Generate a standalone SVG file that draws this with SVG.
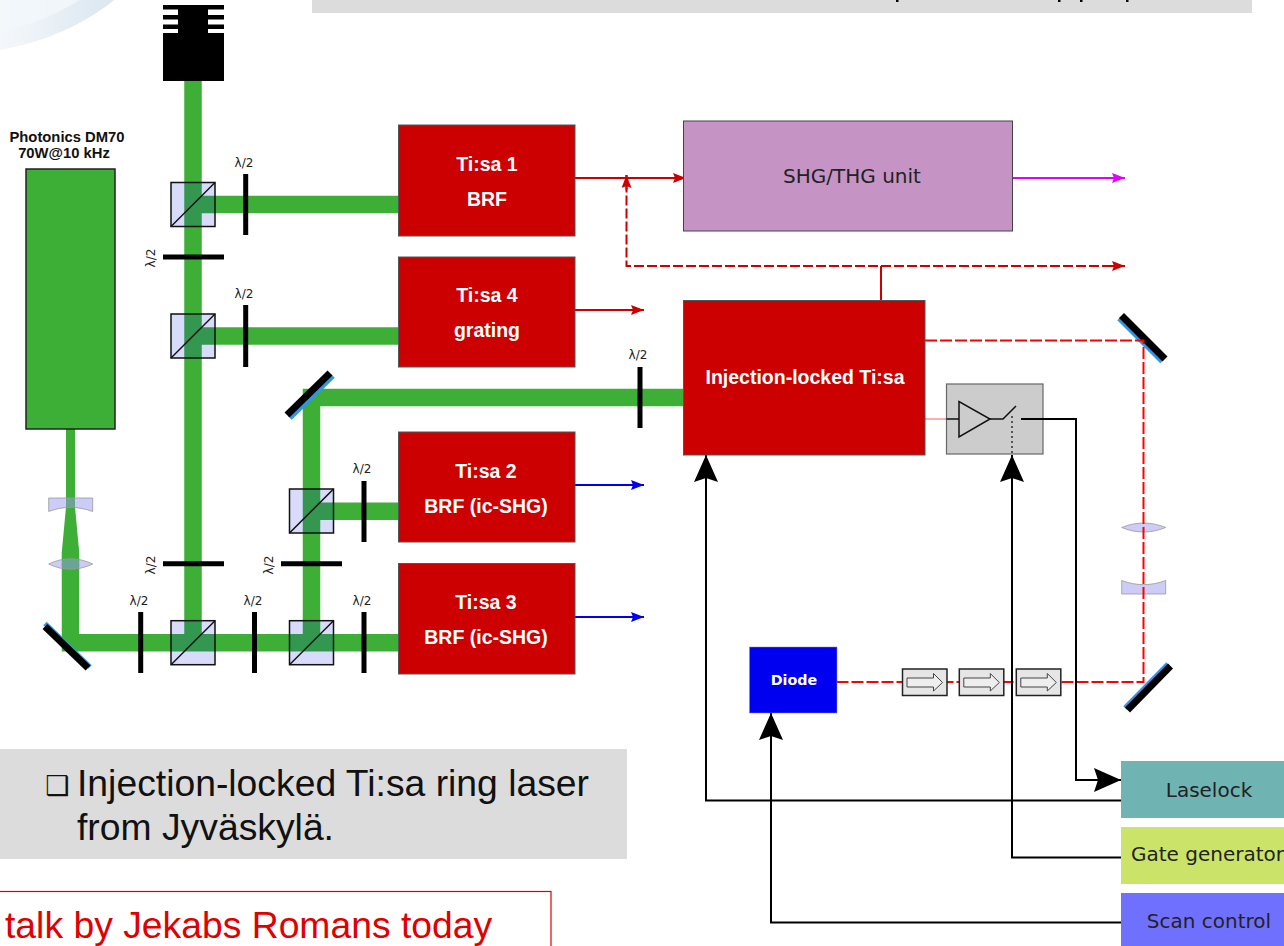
<svg xmlns="http://www.w3.org/2000/svg" width="1284" height="946" viewBox="0 0 1284 946">
<style>
text{font-family:"Liberation Sans",Arial,sans-serif}
.dv{font-family:"DejaVu Sans",sans-serif}
.beam{fill:none;stroke:#3daf37;stroke-width:17.5}
.tisa{fill:#cc0000;stroke:#555;stroke-width:1}
.tw{fill:#fff;font-weight:bold;font-size:19.5px;text-anchor:middle}
.wp{stroke:#000;stroke-width:5;fill:none}
.cube{fill:#0014de;fill-opacity:.154;stroke:#111;stroke-width:1.5}
.diag{stroke:#111;stroke-width:1.5}
.lam{font-family:"DejaVu Sans",sans-serif;font-size:12px;fill:#222;text-anchor:middle}
.lens{fill:#9a9af0;fill-opacity:.5;stroke:#999;stroke-width:.8}
.mb{stroke:#000;stroke-width:7;fill:none}
.mc{stroke:#2f96e8;stroke-width:5;fill:none}
.ctl{fill:none;stroke:#000;stroke-width:2}
.las{fill:none;stroke:#f00;stroke-width:2;stroke-dasharray:12 3}
.iso{fill:#e6e6e6;stroke:#222;stroke-width:1.5}
.isoa{fill:#eee;stroke:#444;stroke-width:1}
.ctlt{font-family:"DejaVu Sans",sans-serif;font-size:20px;fill:#222}
.big{font-size:37.3px}
</style>
<defs>
<linearGradient id="sw" x1="0" y1="0" x2="1" y2="0"><stop offset="0" stop-color="#f4f8fb"/><stop offset="1" stop-color="#dbe6ef"/></linearGradient>
<marker id="ab" markerUnits="userSpaceOnUse" markerWidth="30" markerHeight="26" refX="27" refY="12" orient="auto"><path d="M0 0L27 12L0 24L4 12Z" fill="#000"/></marker>
<marker id="ar" markerUnits="userSpaceOnUse" markerWidth="14" markerHeight="12" refX="13" refY="5" orient="auto"><path d="M0 0L13 5L0 10L2 5Z" fill="#cc0000"/></marker>
<marker id="au" markerUnits="userSpaceOnUse" markerWidth="14" markerHeight="12" refX="13" refY="5" orient="auto"><path d="M0 0L13 5L0 10L2 5Z" fill="#0000ee"/></marker>
<marker id="am" markerUnits="userSpaceOnUse" markerWidth="14" markerHeight="12" refX="13" refY="5" orient="auto"><path d="M0 0L13 5L0 10L2 5Z" fill="#e000ff"/></marker>
<g id="isoBox"><rect class="iso" width="44.5" height="26.5"/><path class="isoa" d="M4.5 9H31V4.5L40 13.5L31 22V18H4.5Z"/></g>
</defs>
<path d="M0 0H114C85 24 45 42 0 50Z" fill="url(#sw)"/>
<path d="M0 0H80C55 15 28 26 0 32Z" fill="#f3f7fb" opacity=".8"/>
<rect x="312" y="0" width="940" height="13" fill="#dcdcdc"/>
<path d="M896 0h2.5v2h-2.5ZM1058 0h2.5v2h-2.5ZM1080 0h2.5v2h-2.5ZM1126 0h2.5v2h-2.5Z" fill="#000"/>

<g id="beams">
<path class="beam" d="M193 81V642"/>
<path class="beam" d="M193 204.500H398"/>
<path class="beam" d="M193 336H398"/>
<path class="beam" d="M70.500 564V642.800H398"/>
<path class="beam" d="M311.500 642V397.500H683"/>
<path class="beam" d="M311.500 511.300H398"/>
<path d="M66 429H75V507L79.300 553V566H61.700V553L66 507Z" fill="#3daf37"/>
</g>

<g id="detector" fill="#000">
<rect x="163" y="33" width="61" height="48"/>
<rect x="178" y="5" width="30" height="30"/>
<rect x="163" y="5" width="61" height="4.500"/>
<rect x="163" y="15" width="61" height="4.500"/>
<rect x="163" y="24.500" width="61" height="4.500"/>
</g>

<g id="pump-laser">
<rect x="26" y="169" width="89" height="260" fill="#3daf37" stroke="#222" stroke-width="1.500"/>
<text x="67" y="142" font-size="14.800" font-weight="bold" text-anchor="middle" fill="#111">Photonics DM70</text>
<text x="64" y="158" font-size="14.800" font-weight="bold" text-anchor="middle" fill="#111">70W@10 kHz</text>
</g>

<g id="cubes">
<g id="pbs1"><rect class="cube" x="171" y="182.500" width="44" height="44"/><path class="diag" d="M171 226.500L215 182.500"/></g>
<g id="pbs2"><rect class="cube" x="171" y="314" width="44" height="44"/><path class="diag" d="M171 358L215 314"/></g>
<g id="pbs3"><rect class="cube" x="171" y="620.700" width="44" height="44"/><path class="diag" d="M171 664.700L215 620.700"/></g>
<g id="pbs4"><rect class="cube" x="289.500" y="620.700" width="44" height="44"/><path class="diag" d="M289.500 664.700L333.500 620.700"/></g>
<g id="pbs5"><rect class="cube" x="289.500" y="489" width="44" height="44"/><path class="diag" d="M289.500 533L333.500 489"/></g>
</g>

<g id="waveplates">
<path class="wp" d="M245.700 174V235M245.700 305V367M640 367V428M364 481V542M364 612V673M140.700 612V673M254.500 612V673M163 257H224M163 563.700H224M281 563.700H342"/>
<text class="lam" x="244" y="167">λ/2</text>
<text class="lam" x="244" y="298">λ/2</text>
<text class="lam" x="638" y="359">λ/2</text>
<text class="lam" x="362" y="473">λ/2</text>
<text class="lam" x="362" y="605">λ/2</text>
<text class="lam" x="139" y="605">λ/2</text>
<text class="lam" x="253" y="605">λ/2</text>
<text class="lam" transform="translate(155 258) rotate(-90)">λ/2</text>
<text class="lam" transform="translate(155 565) rotate(-90)">λ/2</text>
<text class="lam" transform="translate(273 565) rotate(-90)">λ/2</text>
</g>

<g id="lenses">
<path class="lens" d="M48.700 498H92.700V511.500C78 506 63 506 48.700 511.500Z"/>
<path class="lens" d="M48.700 564C63 557 78 557 92.700 564C78 571 63 571 48.700 564Z"/>
<path class="lens" d="M1121.700 527.500C1136 521.500 1151 521.500 1165.700 527.500C1151 533.500 1136 533.500 1121.700 527.500Z"/>
<path class="lens" d="M1121.700 580.500C1136 586 1151 586 1165.700 580.500V594H1121.700Z"/>
</g>

<g id="mirrors">
<path class="mc" d="M45 623.500L90 667"/><path class="mb" d="M45 626.500L88 668"/>
<path class="mc" d="M290 418L333 376"/><path class="mb" d="M287 415L330 373"/>
<path class="mc" d="M1119 318.500L1162 361.500"/><path class="mb" d="M1121.500 315.500L1165 359"/>
<path class="mc" d="M1125 708L1168 664"/><path class="mb" d="M1127.500 710L1170.500 666"/>
</g>

<g id="connectors">
<path d="M575 178H686" fill="none" stroke="#cc0000" stroke-width="2" marker-end="url(#ar)"/>
<path d="M881 300V266" fill="none" stroke="#cc0000" stroke-width="2"/>
<path d="M1125 266H626.500V175" fill="none" stroke="#cc0000" stroke-width="2" stroke-dasharray="10 3"/>
<path d="M626.500 190V175" fill="none" stroke="#cc0000" stroke-width="2" marker-end="url(#ar)"/>
<path d="M1110 266H1125" fill="none" stroke="#cc0000" stroke-width="2" marker-end="url(#ar)"/>
<path d="M575 310H644" fill="none" stroke="#cc0000" stroke-width="2" marker-end="url(#ar)"/>
<path d="M575 485H644" fill="none" stroke="#0000ee" stroke-width="2" marker-end="url(#au)"/>
<path d="M575 617H644" fill="none" stroke="#0000ee" stroke-width="2" marker-end="url(#au)"/>
<path d="M1012 178H1125" fill="none" stroke="#e000ff" stroke-width="2" marker-end="url(#am)"/>
<path class="las" d="M925 340.500H1143.500V682H837"/>
<path d="M925 419H946" fill="none" stroke="#f06060" stroke-width="1"/>
<path class="ctl" d="M1121 800.500H706V455" marker-end="url(#ab)"/>
<path class="ctl" d="M1121 857.500H1012V455" marker-end="url(#ab)"/>
<path class="ctl" d="M1121 922.500H771V713" marker-end="url(#ab)"/>
</g>

<g id="tisa1"><rect class="tisa" x="398.500" y="125" width="176.500" height="111"/><text class="tw" x="487" y="171">Ti:sa 1</text><text class="tw" x="487" y="206">BRF</text></g>
<g id="tisa4"><rect class="tisa" x="398.500" y="257" width="176.500" height="110"/><text class="tw" x="487" y="302">Ti:sa 4</text><text class="tw" x="487" y="337">grating</text></g>
<g id="tisa2"><rect class="tisa" x="398.500" y="432" width="176.500" height="110"/><text class="tw" x="486" y="478">Ti:sa 2</text><text class="tw" x="486" y="513">BRF (ic-SHG)</text></g>
<g id="tisa3"><rect class="tisa" x="398.500" y="563.500" width="176.500" height="110.500"/><text class="tw" x="486" y="609">Ti:sa 3</text><text class="tw" x="486" y="644">BRF (ic-SHG)</text></g>
<g id="injection"><rect class="tisa" x="683.500" y="300.500" width="241.500" height="154.500"/><text class="tw" x="805" y="384">Injection-locked Ti:sa</text></g>
<g id="shg"><rect x="683.500" y="121" width="329" height="110" fill="#c594c5" stroke="#444" stroke-width="1"/><text class="ctlt" x="852" y="183" text-anchor="middle">SHG/THG unit</text></g>

<g id="aom">
<rect x="946.500" y="384" width="96.500" height="70" fill="#ccc" stroke="#666" stroke-width="1.200"/>
<path d="M946.500 419H959M990 419H1003L1016 406" fill="none" stroke="#111" stroke-width="1.500"/>
<path d="M959 401.500V437L990 419Z" fill="#ccc" stroke="#111" stroke-width="1.500"/>
<path d="M1012 416V455" fill="none" stroke="#555" stroke-width="2" stroke-dasharray="2 3"/>
<path class="ctl" d="M1021 419H1076V780H1121" marker-end="url(#ab)"/>
</g>

<g id="diode"><rect x="749.500" y="647" width="87.500" height="66" fill="#0000f0" stroke="#88a" stroke-width=".5"/><text class="dv" x="794" y="685" font-size="14.300" font-weight="bold" fill="#fff" text-anchor="middle">Diode</text></g>
<g id="isolators">
<use href="#isoBox" x="902.500" y="669"/>
<use href="#isoBox" x="959.300" y="669"/>
<use href="#isoBox" x="1016.300" y="669"/>
</g>

<g id="laselock"><rect x="1121" y="761" width="163" height="57" fill="#6fb3b3"/><text class="ctlt" x="1209" y="797" text-anchor="middle">Laselock</text></g>
<g id="gate"><rect x="1121" y="827" width="163" height="57" fill="#cce36a"/><text class="ctlt" x="1131" y="861">Gate generator</text></g>
<g id="scan"><rect x="1121" y="893" width="163" height="53" fill="#7070ff"/><text class="ctlt" x="1209" y="928" text-anchor="middle">Scan control</text></g>

<g id="note">
<rect x="0" y="749" width="627" height="110" fill="#dcdcdc"/>
<text class="dv" x="45" y="795" font-size="27" fill="#111">❑</text>
<text class="big" x="77" y="796" fill="#111">Injection-locked Ti:sa ring laser</text>
<text class="big" x="77" y="840" fill="#111">from Jyväskylä.</text>
</g>
<g id="talk">
<rect x="-2" y="891.500" width="553" height="60" fill="#fff" stroke="#e00000" stroke-width="1.200"/>
<text class="big" x="5" y="938" fill="#e00000">talk by Jekabs Romans today</text>
</g>
</svg>
